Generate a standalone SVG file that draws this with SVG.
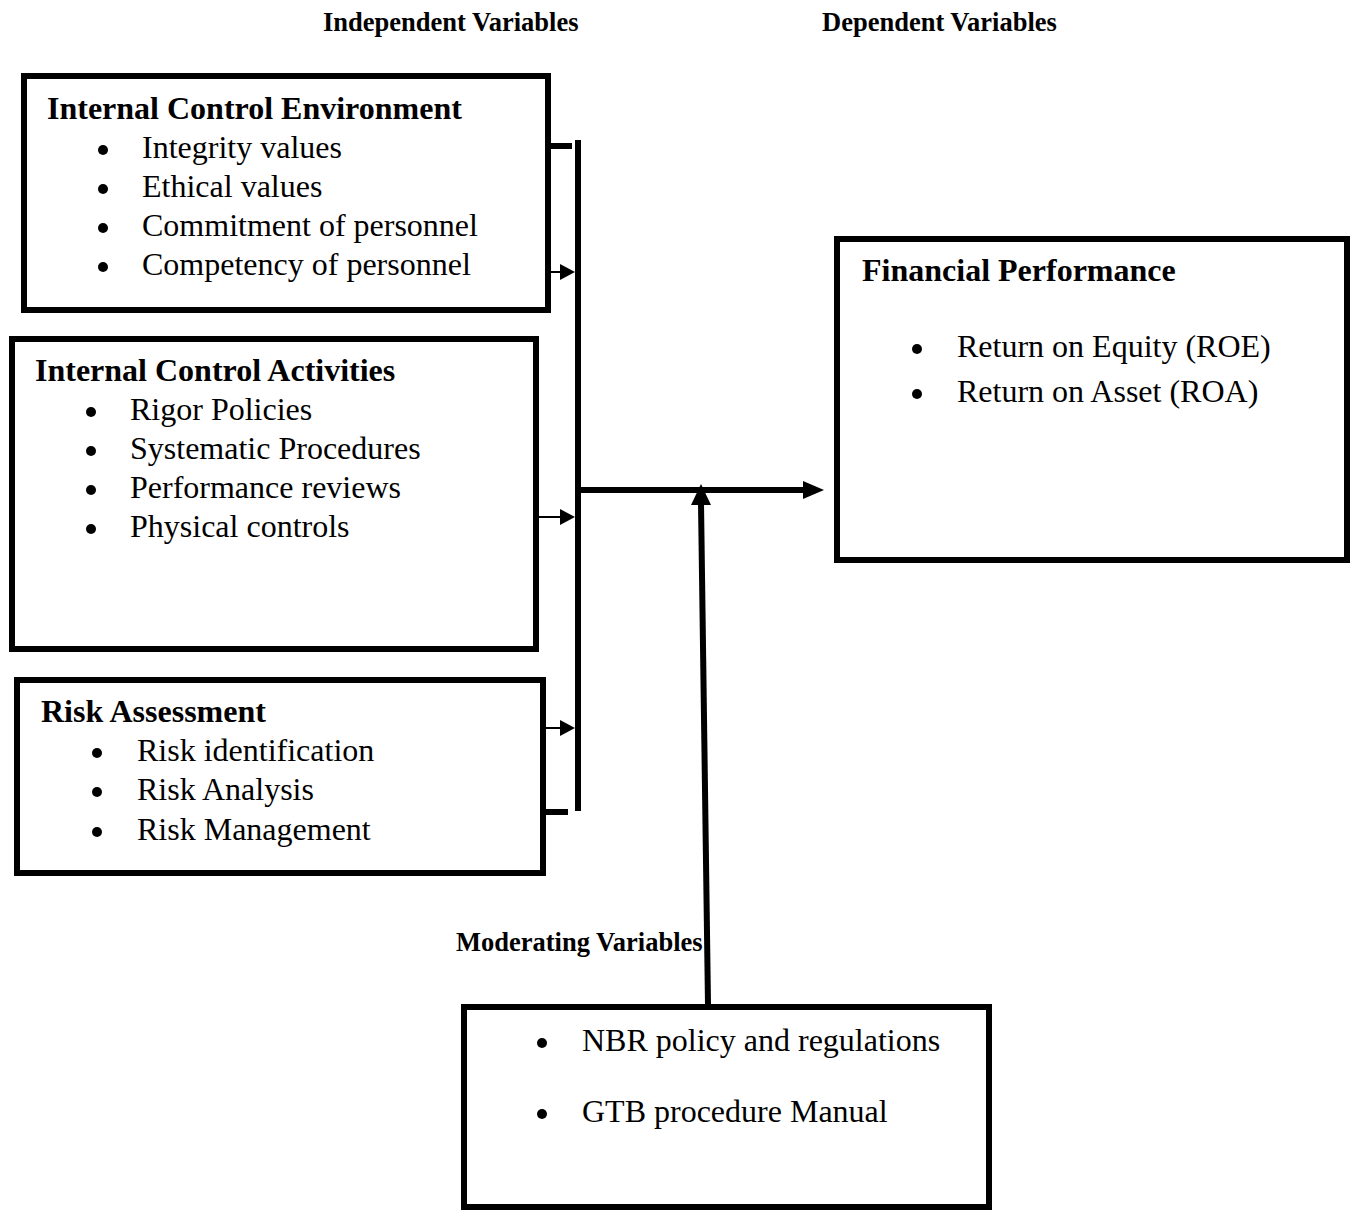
<svg xmlns="http://www.w3.org/2000/svg" width="1351" height="1211" viewBox="0 0 1351 1211">
<style>
.box{fill:none;stroke:#000;stroke-width:6}
.title{font-family:"Liberation Serif","Times New Roman",serif;font-weight:bold;font-size:26.5px;fill:#000}
.head{font-family:"Liberation Serif","Times New Roman",serif;font-weight:bold;font-size:32px;fill:#000}
.item{font-family:"Liberation Serif","Times New Roman",serif;font-size:32px;fill:#000}
.dot{fill:#000}
.thick{stroke:#000;stroke-width:6;fill:none}
.thin{stroke:#000;stroke-width:2;fill:none}
.head-fill{fill:#000}
</style>
<rect width="1351" height="1211" fill="#fff"/>
<g id="titles">
<text class="title" x="323" y="31">Independent Variables</text>
<text class="title" x="822" y="31">Dependent Variables</text>
<text class="title" x="456" y="951">Moderating Variables</text>
</g>
<g id="node-environment">
<rect class="box" x="24" y="76" width="524" height="234"/>
<text class="head" x="47" y="119">Internal Control Environment</text>
<circle class="dot" cx="103" cy="150" r="5"/><text class="item" x="142" y="158">Integrity values</text>
<circle class="dot" cx="103" cy="189" r="5"/><text class="item" x="142" y="197">Ethical values</text>
<circle class="dot" cx="103" cy="228" r="5"/><text class="item" x="142" y="236">Commitment of personnel</text>
<circle class="dot" cx="103" cy="267" r="5"/><text class="item" x="142" y="275">Competency of personnel</text>
</g>
<g id="node-activities">
<rect class="box" x="12" y="339" width="524" height="310"/>
<text class="head" x="35" y="381">Internal Control Activities</text>
<circle class="dot" cx="91" cy="412" r="5"/><text class="item" x="130" y="420">Rigor Policies</text>
<circle class="dot" cx="91" cy="451" r="5"/><text class="item" x="130" y="459">Systematic Procedures</text>
<circle class="dot" cx="91" cy="490" r="5"/><text class="item" x="130" y="498">Performance reviews</text>
<circle class="dot" cx="91" cy="529" r="5"/><text class="item" x="130" y="537">Physical controls</text>
</g>
<g id="node-risk">
<rect class="box" x="17" y="680" width="526" height="193"/>
<text class="head" x="41" y="722">Risk Assessment</text>
<circle class="dot" cx="97" cy="753" r="5"/><text class="item" x="137" y="761">Risk identification</text>
<circle class="dot" cx="97" cy="792" r="5"/><text class="item" x="137" y="800">Risk Analysis</text>
<circle class="dot" cx="97" cy="832" r="5"/><text class="item" x="137" y="840">Risk Management</text>
</g>
<g id="node-financial">
<rect class="box" x="837" y="239" width="510" height="321"/>
<text class="head" x="862" y="281">Financial Performance</text>
<circle class="dot" cx="917" cy="349" r="5"/><text class="item" x="957" y="357">Return on Equity (ROE)</text>
<circle class="dot" cx="917" cy="394" r="5"/><text class="item" x="957" y="402">Return on Asset (ROA)</text>
</g>
<g id="node-moderating">
<rect class="box" x="464" y="1007" width="525" height="200"/>
<circle class="dot" cx="542" cy="1043" r="5"/><text class="item" x="582" y="1051">NBR policy and regulations</text>
<circle class="dot" cx="542" cy="1114" r="5"/><text class="item" x="582" y="1122">GTB procedure Manual</text>
</g>
<g id="connectors">
<line class="thick" x1="578" y1="140" x2="578" y2="811"/>
<line class="thick" x1="551" y1="146" x2="572" y2="146"/>
<line class="thick" x1="546" y1="812" x2="568" y2="812"/>
<line class="thin" x1="551" y1="272" x2="562" y2="272"/>
<polygon class="head-fill" points="560,264 575,272 560,280"/>
<line class="thin" x1="539" y1="517" x2="562" y2="517"/>
<polygon class="head-fill" points="560,509 575,517 560,525"/>
<line class="thin" x1="546" y1="728" x2="562" y2="728"/>
<polygon class="head-fill" points="560,720 575,728 560,736"/>
<line class="thick" x1="581" y1="490" x2="805" y2="490"/>
<polygon class="head-fill" points="803,481 824,490 803,499"/>
<line class="thick" x1="708" y1="1004" x2="701" y2="503"/>
<polygon class="head-fill" points="691,505 701,484 711,505"/>
</g>
</svg>
